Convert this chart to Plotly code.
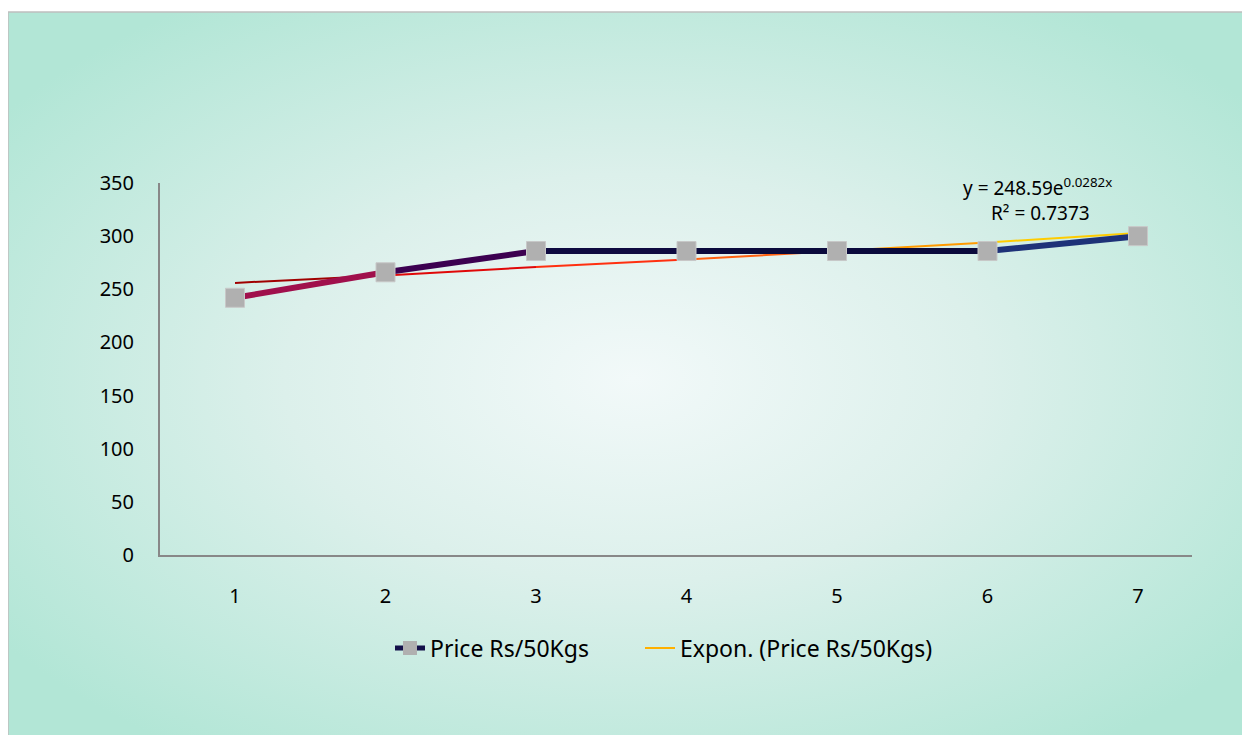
import base64
import plotly.graph_objects as go

# ---- data ----
periods = [1, 2, 3, 4, 5, 6, 7]
price = [242, 266, 286, 286, 286, 286, 300]
trend = [256, 263, 271, 278, 286, 294, 303]
series_name = "Price Rs/50Kgs"
trend_name = "Expon. (Price Rs/50Kgs)"
eq_text = "y = 248.59e<sup>0.0282x</sup>"
r2_text = "R² = 0.7373"
y_ticks = [0, 50, 100, 150, 200, 250, 300, 350]

# ---- styles ----
W, H = 1250, 735
OFF = 8  # page body margin
L, R, T, B = 160 - OFF, 1192 - OFF, 183 - OFF, 555 - OFF
FONT = "Noto Sans"
LEG_FONT = "Noto Sans"
line_seg_colors = ["#A0104C", "#3C0050", "#0E0A40", "#0A0A3C", "#0A0A3C", "#1E3278"]
trend_seg_colors = ["#A00000", "#E00808", "#FF3010", "#FF6010", "#FF9A00", "#FFCC00"]


def px_x(p):
    return (p - OFF - L) / (R - L)


def px_y(p):
    return (B - (p - OFF)) / (B - T)


svg = '''<svg xmlns="http://www.w3.org/2000/svg" width="1242" height="723" viewBox="0 0 1242 723" preserveAspectRatio="none">
<defs><radialGradient id="g" cx="0.5" cy="0.5" r="0.62" gradientUnits="objectBoundingBox">
<stop offset="0" stop-color="#F2F9F9"/>
<stop offset="0.45" stop-color="#DCF0EB"/>
<stop offset="1" stop-color="#B2E6D6"/>
</radialGradient></defs>
<rect x="0" y="0" width="1242" height="723" fill="url(#g)"/>
</svg>'''
src = "data:image/svg+xml;base64," + base64.b64encode(svg.encode()).decode()

fig = go.Figure()

# trendline segments
for i in range(len(periods) - 1):
    fig.add_trace(go.Scatter(
        x=periods[i:i + 2], y=trend[i:i + 2], mode="lines",
        line=dict(color=trend_seg_colors[i], width=2),
        showlegend=False, hoverinfo="skip"))

# main line segments
for i in range(len(periods) - 1):
    fig.add_trace(go.Scatter(
        x=periods[i:i + 2], y=price[i:i + 2], mode="lines",
        line=dict(color=line_seg_colors[i], width=6),
        showlegend=False, hoverinfo="skip"))

# markers
fig.add_trace(go.Scatter(
    x=periods, y=price, mode="markers", name=series_name,
    marker=dict(symbol="square", size=19, color="#B0B0B0",
                line=dict(color="#C8C8C8", width=1)), showlegend=False))

# legend entries
fig.add_trace(go.Scatter(
    x=[None], y=[None], mode="lines+markers", name=series_name,
    line=dict(color="#14104A", width=5), legendwidth=205,
    marker=dict(symbol="square", size=14, color="#B0B0B0"), showlegend=True))
fig.add_trace(go.Scatter(
    x=[None], y=[None], mode="lines", name=trend_name, legendwidth=320,
    line=dict(color="#FFB000", width=2), showlegend=True))

fig.update_layout(
    width=W, height=H,
    margin=dict(l=L, r=W - R, t=T, b=H - B, pad=0),
    paper_bgcolor="white",
    plot_bgcolor="rgba(0,0,0,0)",
    font=dict(family=FONT, size=20, color="#000000"),
    showlegend=True,
    legend=dict(orientation="h", x=px_x(390), y=px_y(648), xanchor="left",
                yanchor="middle", bgcolor="rgba(0,0,0,0)",
                font=dict(family=LEG_FONT, size=23, color="#000000"),
                tracegroupgap=0),
    images=[dict(source=src, xref="paper", yref="paper",
                 x=px_x(8), y=px_y(12), sizex=px_x(1258) - px_x(8),
                 sizey=px_y(12) - px_y(745), sizing="stretch",
                 xanchor="left", yanchor="top", layer="below")],
    shapes=[dict(type="rect", xref="paper", yref="paper",
                 x0=px_x(8), y0=px_y(760), x1=px_x(1270), y1=px_y(12),
                 line=dict(color="#BFBFBF", width=1.5), layer="below")],
    annotations=[
        dict(text=eq_text, xref="paper", yref="paper", x=px_x(1037), y=px_y(187),
             showarrow=False, xanchor="center", yanchor="middle",
             font=dict(family=FONT, size=19, color="#000000")),
        dict(text=r2_text, xref="paper", yref="paper", x=px_x(1040), y=px_y(213),
             showarrow=False, xanchor="center", yanchor="middle",
             font=dict(family=FONT, size=19, color="#000000")),
    ],
)

fig.update_xaxes(range=[1 - 75 / 150.5, 7 + 54 / 150.5], tickvals=periods,
                 ticktext=[str(p) for p in periods], showgrid=False, zeroline=False,
                 showline=True, linecolor="#888888", linewidth=2, ticks="",
                 ticklabelstandoff=22, tickfont=dict(size=20, color="#000000"))
fig.update_yaxes(range=[0, 350], tickvals=y_ticks, showgrid=False, zeroline=False,
                 showline=True, linecolor="#888888", linewidth=2, ticks="",
                 ticklabelstandoff=20, tickfont=dict(size=20, color="#000000"))

fig.write_html("out.html")
